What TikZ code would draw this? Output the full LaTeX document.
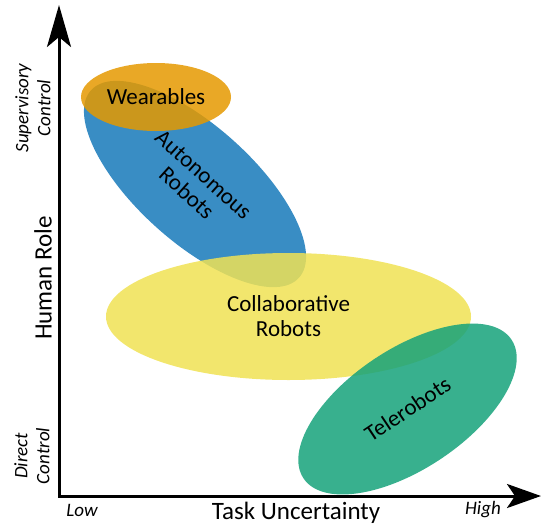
\documentclass[tikz,border=0pt]{standalone}
\usepackage{fontspec}
\setmainfont{Carlito}
\usetikzlibrary{shapes.geometric,arrows.meta}
\definecolor{cblue}{RGB}{22,121,186}
\definecolor{corange}{RGB}{229,153,0}
\definecolor{cyellow}{RGB}{240,226,84}
\definecolor{cgreen}{RGB}{21,162,122}
\begin{document}
\begin{tikzpicture}[x=1pt,y=-1pt,
  blob/.style={ellipse, inner sep=0pt, fill opacity=0.85, text opacity=1,
    align=center, font=\fontsize{23}{25}\selectfont},
  axis/.style={line width=3pt, line cap=rect},
  endlabel/.style={font=\itshape\fontsize{19}{22}\selectfont, align=center},
  axistitle/.style={font=\fontsize{25}{27}\selectfont}]
\useasboundingbox (0,0) rectangle (541,528);
\node[blob, fill=cblue, minimum width=280pt, minimum height=116pt, rotate=-42] (auto) at (195,184) {Autonomous\\Robots};
\node[blob, fill=corange, minimum width=150pt, minimum height=68pt] (wear) at (156,97) {Wearables};
\node[blob, fill=cyellow, minimum width=365pt, minimum height=127pt] (collab) at (288.5,316.5) {Collaborative\\Robots};
\node[blob, fill=cgreen, minimum width=250pt, minimum height=120pt, rotate=33.7] (tele) at (407.5,409) {Telerobots};
\coordinate (O) at (59,496);
\coordinate (ytop) at (59,5);
\coordinate (xend) at (541,496);
\draw[axis, -{Stealth[length=42pt,width=24pt,inset=10pt]}] (O) -- (ytop);
\draw[axis, -{Stealth[length=34pt,width=24pt,inset=8pt]}] (O) -- (xend);
\node[endlabel, rotate=90] (sup) at (33,108) {Supervisory\\Control};
\node[endlabel, rotate=90] (dir) at (32,456) {Direct\\Control};
\node[axistitle, rotate=90] (human) at (43,278) {Human Role};
\node[endlabel] (low) at (82,510) {Low};
\node[endlabel] (high) at (483,510) {High};
\node[axistitle] (task) at (296,513) {Task Uncertainty};
\end{tikzpicture}
\end{document}
